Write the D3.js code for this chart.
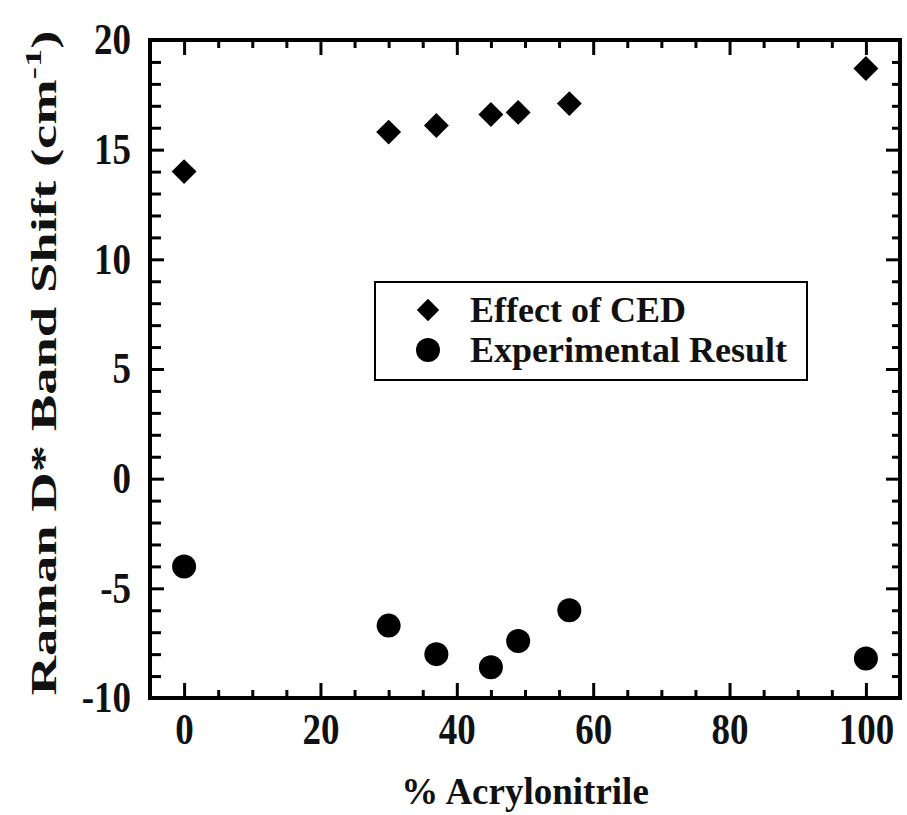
<!DOCTYPE html>
<html>
<head>
<meta charset="utf-8">
<script src="https://cdn.jsdelivr.net/npm/d3@7"></script>
<style>
  html, body { margin: 0; padding: 0; background: #fff; }
  text { font-family: "Liberation Serif", "Times New Roman", serif; font-weight: bold; fill: #111; }
</style>
</head>
<body>
<script>
// data
const acrylonitrile = [0, 30, 37, 45, 49, 56.5, 100];
const cedShift = [14.0, 15.8, 16.1, 16.6, 16.7, 17.1, 18.7];
const expShift = [-4.0, -6.7, -8.0, -8.6, -7.4, -6.0, -8.2];
const xTicks = [0, 20, 40, 60, 80, 100];
const yTicks = [-10, -5, 0, 5, 10, 15, 20];
const legendLabels = ["Effect of CED", "Experimental Result"];

const width = 907, height = 815;
const margin = { left: 150, right: 7, top: 40, bottom: 117 };
const chartWidth = width - margin.left - margin.right;
const chartHeight = height - margin.top - margin.bottom;

const svg = d3.select("body").append("svg")
  .attr("width", width)
  .attr("height", height);

const g = svg.append("g")
  .attr("transform", `translate(${margin.left}, ${margin.top})`);

const x = d3.scaleLinear().domain([-5, 105]).range([0, chartWidth]);
const y = d3.scaleLinear().domain([-10, 20]).range([chartHeight, 0]);

const xMinor = d3.range(-5, 106, 5).filter(v => !xTicks.includes(v));
const yMinor = d3.range(-10, 21, 1).filter(v => !yTicks.includes(v));

// the original lettering is a little taller than normal
const tall = 1.17;

// axes: ticks point inwards on all four sides
const styleAxis = sel => {
  sel.select(".domain").remove();
  sel.selectAll(".tick line").attr("stroke", "#000").attr("stroke-width", 3);
  sel.selectAll(".tick text").attr("font-size", 37).attr("fill", "#111")
    .attr("font-family", "Liberation Serif, Times New Roman, serif").attr("font-weight", "bold");
};

g.append("g").attr("transform", `translate(0, ${chartHeight})`)
  .call(d3.axisBottom(x).tickValues(xTicks).tickSize(-15).tickPadding(15).tickFormat(d => String(d)))
  .call(styleAxis)
  .call(sel => sel.selectAll(".tick text")
    .attr("transform", `translate(0, 15) scale(1, ${tall}) translate(0, -15)`));
g.append("g").attr("transform", `translate(0, ${chartHeight})`)
  .call(d3.axisBottom(x).tickValues(xMinor).tickSize(-8).tickFormat(""))
  .call(styleAxis);
g.append("g")
  .call(d3.axisTop(x).tickValues(xTicks).tickSize(-15).tickFormat(""))
  .call(styleAxis);
g.append("g")
  .call(d3.axisTop(x).tickValues(xMinor).tickSize(-8).tickFormat(""))
  .call(styleAxis);

g.append("g")
  .call(d3.axisLeft(y).tickValues(yTicks).tickSize(-14).tickPadding(19).tickFormat(d => String(d)))
  .call(styleAxis)
  .call(sel => sel.selectAll(".tick text").attr("transform", `scale(1, ${tall})`));
g.append("g")
  .call(d3.axisLeft(y).tickValues(yMinor).tickSize(-11).tickFormat(""))
  .call(styleAxis);
g.append("g").attr("transform", `translate(${chartWidth}, 0)`)
  .call(d3.axisRight(y).tickValues(yTicks).tickSize(-14).tickFormat(""))
  .call(styleAxis);
g.append("g").attr("transform", `translate(${chartWidth}, 0)`)
  .call(d3.axisRight(y).tickValues(yMinor).tickSize(-8).tickFormat(""))
  .call(styleAxis);

// frame
g.append("rect")
  .attr("x", 0).attr("y", 0)
  .attr("width", chartWidth).attr("height", chartHeight)
  .attr("fill", "none").attr("stroke", "#000").attr("stroke-width", 4);

// markers
const diamond = d3.symbol().type(d3.symbolSquare).size(310);

g.selectAll(".ced")
  .data(acrylonitrile)
  .enter()
  .append("path")
  .attr("class", "ced")
  .attr("d", diamond)
  .attr("transform", (d, i) => `translate(${x(d)}, ${y(cedShift[i])}) rotate(45)`)
  .attr("fill", "#000");

g.selectAll(".exp")
  .data(acrylonitrile)
  .enter()
  .append("circle")
  .attr("class", "exp")
  .attr("cx", d => x(d))
  .attr("cy", (d, i) => y(expShift[i]))
  .attr("r", 12)
  .attr("fill", "#000");

// legend
const legend = svg.append("g").attr("transform", "translate(375, 282)");
legend.append("rect")
  .attr("width", 432).attr("height", 98)
  .attr("fill", "#fff").attr("stroke", "#000").attr("stroke-width", 2);
legend.append("path")
  .attr("d", d3.symbol().type(d3.symbolSquare).size(250))
  .attr("transform", "translate(53, 28) rotate(45)")
  .attr("fill", "#000");
legend.append("circle")
  .attr("cx", 53).attr("cy", 68).attr("r", 12).attr("fill", "#000");
legend.selectAll(".lbl")
  .data(legendLabels)
  .enter()
  .append("text")
  .attr("class", "lbl")
  .attr("x", 95)
  .attr("y", (d, i) => 40 + i * 40)
  .attr("font-size", 36)
  .text(d => d);

// axis titles
svg.append("text")
  .attr("x", margin.left + chartWidth / 2)
  .attr("y", 804)
  .attr("text-anchor", "middle")
  .attr("font-size", 37)
  .text("% Acrylonitrile");

const yTitle = svg.append("text")
  .attr("text-anchor", "middle")
  .attr("font-size", 36);
yTitle.append("tspan").text("Raman D* Band Shift (cm");
yTitle.append("tspan").attr("font-size", 24).attr("dy", -15).text("-1");
yTitle.append("tspan").attr("dy", 15).text(")");
// the original title is stretched along its length to span the plot height
const natural = yTitle.node().getComputedTextLength();
const stretch = 665 / natural;
yTitle.attr("transform", `translate(56, 363) scale(1, ${stretch}) rotate(-90)`);
</script>
</body>
</html>
